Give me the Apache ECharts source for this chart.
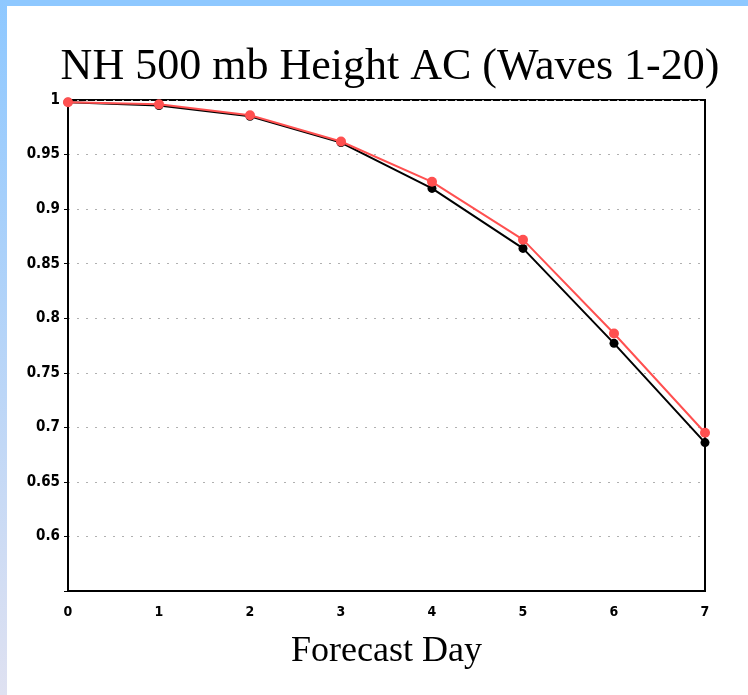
<!DOCTYPE html>
<html>
<head>
<meta charset="utf-8">
<script src="https://cdn.jsdelivr.net/npm/echarts@6/dist/echarts.min.js"></script>
<style>
html,body{margin:0;padding:0;background:#fff;}
#topbar{position:absolute;left:0;top:0;width:748px;height:6px;background:#8ec8ff;}
#leftbar{position:absolute;left:0;top:0;width:7px;height:695px;background:linear-gradient(#8ec8ff,#dfe1f1);}
#chart{position:absolute;left:0;top:0;width:748px;height:695px;}
</style>
</head>
<body>
<div id="topbar"></div>
<div id="leftbar"></div>
<div id="chart"></div>
<script>
const titleText = 'NH 500 mb Height AC (Waves 1-20)';
const xAxisName = 'Forecast Day';
const days = [0, 1, 2, 3, 4, 5, 6, 7];
const blackSeries = [0.998, 0.995, 0.985, 0.961, 0.919, 0.864, 0.777, 0.686];
const redSeries = [0.998, 0.996, 0.986, 0.962, 0.925, 0.872, 0.786, 0.695];

const chart = echarts.init(document.getElementById('chart'), null, {renderer: 'canvas'});
const labelFont = "'Liberation Sans Narrow', 'DejaVu Sans Condensed', sans-serif";
chart.setOption({
  animation: false,
  backgroundColor: 'transparent',
  title: {
    text: titleText,
    left: 385,
    textAlign: 'center',
    top: 40,
    textStyle: {fontFamily: "'Liberation Serif', serif", fontSize: 44, fontWeight: 'normal', color: '#000'}
  },
  grid: {left: 68, right: 43, top: 100, bottom: 104, show: true, borderColor: '#000', borderWidth: 2, backgroundColor: 'transparent'},
  xAxis: {
    type: 'value', min: 0, max: 7, interval: 1,
    name: xAxisName, nameLocation: 'middle', nameGap: 43,
    nameTextStyle: {fontFamily: "'Liberation Serif', serif", fontSize: 36, color: '#000'},
    axisLine: {show: true, lineStyle: {color: '#000', width: 2}},
    axisTick: {show: false},
    splitLine: {show: false},
    axisLabel: {margin: 14, color: '#000', fontFamily: labelFont, fontWeight: 'bold', fontSize: 14}
  },
  yAxis: {
    type: 'value', min: 0.55, max: 1, interval: 0.05,
    axisLine: {show: true, lineStyle: {color: '#000', width: 2}},
    axisTick: {show: true, length: 4, lineStyle: {color: '#000', width: 1}},
    splitLine: {show: true, lineStyle: {color: '#b0b0b0', type: [2, 7], width: 1}},
    axisLabel: {
      margin: 8, color: '#000', fontFamily: labelFont, fontWeight: 'bold', fontSize: 15,
      formatter: function (v) {
        const r = Math.round(v * 100) / 100;
        if (r < 0.575) return '';
        return String(r);
      }
    }
  },
  series: [
    {
      type: 'line', data: days.map((d, i) => [d, blackSeries[i]]),
      color: '#000', symbol: 'circle', symbolSize: 9, clip: false,
      lineStyle: {color: '#000', width: 2}, itemStyle: {color: '#000'}, z: 2
    },
    {
      type: 'line', data: days.map((d, i) => [d, redSeries[i]]),
      color: '#ff5050', symbol: 'circle', symbolSize: 10, clip: false,
      lineStyle: {color: '#ff5050', width: 2}, itemStyle: {color: '#ff5050'}, z: 3
    }
  ]
});
</script>
</body>
</html>
